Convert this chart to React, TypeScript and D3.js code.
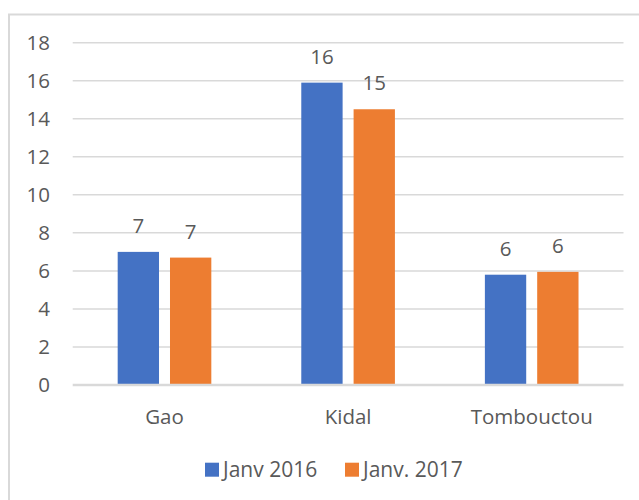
import React from "react";
import * as d3 from "d3";

const categories = ["Gao", "Kidal", "Tombouctou"];
const seriesNames = ["Janv 2016", "Janv. 2017"];
const janv2016 = [7.0, 15.9, 5.8];
const janv2017 = [6.7, 14.5, 5.95];
const yTicks = [0, 2, 4, 6, 8, 10, 12, 14, 16, 18];
const colors = ["#4472C4", "#ED7D31"];

const W = 639;
const H = 500;
const FONT = "'Open Sans', 'Noto Sans', sans-serif";
const TEXT = "#595959";
const GRID = "#d9d9d9";
const FS = 20.5;

export default function App() {
  const series = [janv2016, janv2017];
  const x0 = d3.scaleBand<string>().domain(categories).range([72.7, 623.5]).padding(0);
  const x1 = d3
    .scaleBand<string>()
    .domain(seriesNames)
    .range([0, x0.bandwidth()])
    .paddingInner(0.21)
    .paddingOuter(0.86);
  const y = d3.scaleLinear().domain([0, 18]).range([385, 42.7]);

  return (
    <svg
      width={W}
      height={H}
      style={{ position: "absolute", left: 0, top: 0, display: "block", background: "#fff" }}
      fontFamily={FONT}
    >
      <rect x={0} y={0} width={W} height={H} fill="#fff" />
      <rect x={9} y={14.5} width={W + 20} height={H + 20} fill="none" stroke={GRID} strokeWidth={2} />
      {yTicks.map((t) => (
        <g key={t}>
          {t !== 0 && (
            <line x1={72.7} x2={623.5} y1={y(t)} y2={y(t)} stroke={GRID} strokeWidth={1.5} />
          )}
          <text
            x={50}
            y={y(t)}
            dy="0.36em"
            textAnchor="end"
            fontSize={FS}
            fill={TEXT}
          >
            {t}
          </text>
        </g>
      ))}
      {categories.map((c, i) => (
        <g key={c} transform={`translate(${x0(c)},0)`}>
          {seriesNames.map((s, j) => {
            const v = series[j][i];
            const bx = x1(s)!;
            return (
              <g key={s}>
                <rect
                  x={bx}
                  y={y(v)}
                  width={x1.bandwidth()}
                  height={y(0) - y(v)}
                  fill={colors[j]}
                />
                <text
                  x={bx + x1.bandwidth() / 2}
                  y={y(v) - 19}
                  textAnchor="middle"
                  fontSize={FS}
                  fill={TEXT}
                >
                  {d3.format(".0f")(v)}
                </text>
              </g>
            );
          })}
          <text
            x={x0.bandwidth() / 2}
            y={423.5}
            textAnchor="middle"
            fontSize={FS}
            fill={TEXT}
          >
            {c}
          </text>
        </g>
      ))}
      <line x1={72.7} x2={623.5} y1={y(0)} y2={y(0)} stroke={GRID} strokeWidth={2.5} />
      {seriesNames.map((s, j) => {
        const lx = [205, 345][j];
        return (
          <g key={s}>
            <rect x={lx} y={462.7} width={14} height={14} fill={colors[j]} />
            <text x={lx + 18} y={476.7} fontSize={FS + 0.5} fill={TEXT}>
              {s}
            </text>
          </g>
        );
      })}
    </svg>
  );
}
